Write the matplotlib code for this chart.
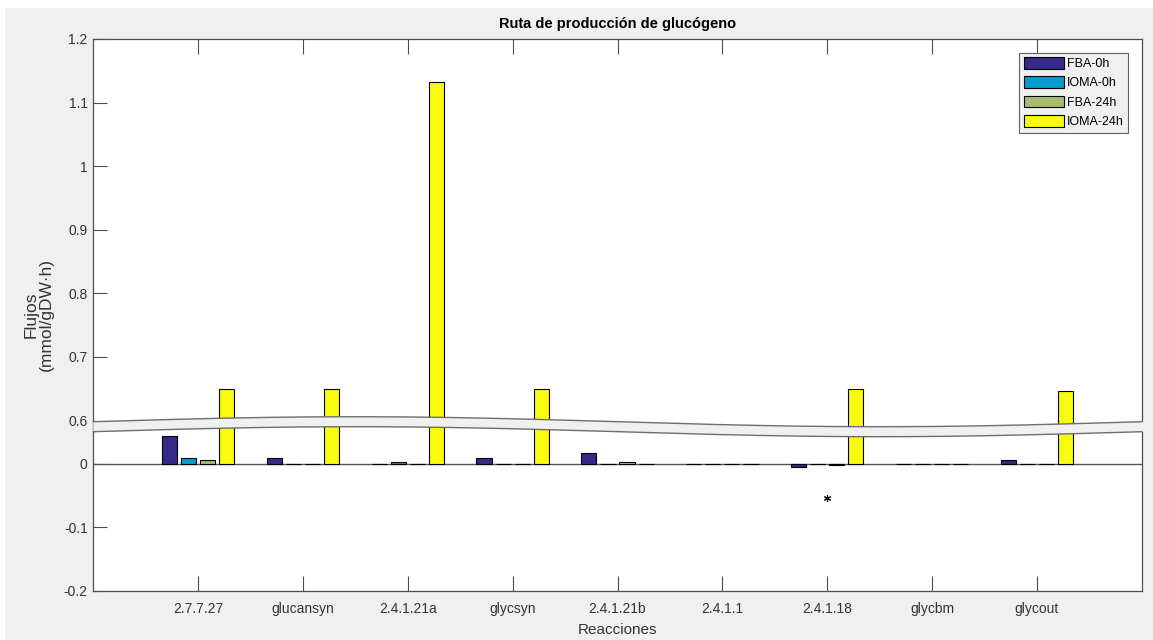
import numpy as np
import matplotlib

matplotlib.use("Agg")
import matplotlib.pyplot as plt
from matplotlib.patches import Rectangle

# Glycogen pathway fluxes per reaction, four simulation scenarios.
reactions = ["2.7.7.27", "glucansyn", "2.4.1.21a", "glycsyn", "2.4.1.21b",
             "2.4.1.1", "2.4.1.18", "glycbm", "glycout"]
series_names = ["FBA-0h", "IOMA-0h", "FBA-24h", "IOMA-24h"]
fba_0h = [0.044, 0.008, 0.0, 0.008, 0.016, 0.0, -0.006, 0.0, 0.006]
ioma_0h = [0.008, 0.0, 0.002, 0.0, 0.0, 0.0, 0.0, 0.0, 0.0]
fba_24h = [0.006, 0.0, 0.0, 0.0, 0.002, 0.0, -0.002, 0.0, 0.0]
ioma_24h = [0.65, 0.65, 1.133, 0.65, 0.0, 0.0, 0.65, 0.0, 0.647]
# lone marker under 2.4.1.18
star_x = 7
star_y = -0.055

yticks = [-0.2, -0.1, 0, 0.6, 0.7, 0.8, 0.9, 1.0, 1.1, 1.2]
ytick_labels = ["-0.2", "-0.1", "0", "0.6", "0.7", "0.8", "0.9", "1", "1.1", "1.2"]

# parula(4)
colors = ["#352a87", "#079cd0", "#a5be6b", "#f9fb0e"]

# broken y axis: values between BREAK_LO and 0.6 are squeezed out
BREAK_LO = 0.0675
GAP = 0.6 - BREAK_LO


def forward(v):
    v = np.asarray(v, dtype=float)
    return np.where(v <= BREAK_LO, v, v - GAP)


def inverse(t):
    t = np.asarray(t, dtype=float)
    return np.where(t <= BREAK_LO, t, t + GAP)


plt.rcParams["font.family"] = ["Liberation Sans Narrow", "Liberation Sans", "DejaVu Sans"]
plt.rcParams["axes.unicode_minus"] = False

W, H = 1153, 640
fig = plt.figure(figsize=(W / 100, H / 100), dpi=100, facecolor="#f0f0f0")
# thin white margin along the top and left edges
fig.patches.append(Rectangle((0, 1 - 8 / H), 1, 8 / H, transform=fig.transFigure,
                             facecolor="white", edgecolor="none", zorder=-1))
fig.patches.append(Rectangle((0, 0), 5 / W, 1, transform=fig.transFigure,
                             facecolor="white", edgecolor="none", zorder=-1))

ax_l, ax_r, ax_t, ax_b = 93.3, 1141.7, 39.0, 590.7
ax = fig.add_axes([ax_l / W, 1 - ax_b / H, (ax_r - ax_l) / W, (ax_b - ax_t) / H])
ax.set_facecolor("white")
ax.set_yscale("function", functions=(forward, inverse))

x = np.arange(1, len(reactions) + 1)
slot = 0.182
width = 0.145
for i, (vals, name) in enumerate(zip([fba_0h, ioma_0h, fba_24h, ioma_24h], series_names)):
    ax.bar(x + (i - 1.5) * slot, vals, width, color=colors[i], edgecolor="black",
           linewidth=0.8, label=name, zorder=3)

ax.axhline(0, color="#555555", linewidth=1.0, zorder=2)
ax.plot([star_x], [star_y], marker=(6, 2, 0), color="black", markersize=5,
        markeredgewidth=0.8, linestyle="none", zorder=4)

ax.set_xlim(0, 10)
ax.set_ylim(-0.2, 1.2)
ax.set_xticks(x)
ax.set_xticklabels(reactions)
ax.set_yticks(yticks)
ax.set_yticklabels(ytick_labels)
ax.minorticks_off()
ax.tick_params(axis="x", direction="in", length=11, width=0.8, color="#4d4d4d",
               top=True, labelsize=10, labelcolor="#333333", pad=8)
ax.tick_params(axis="y", direction="in", length=10, width=0.8, color="#4d4d4d",
               right=False, labelsize=10, labelcolor="#333333", pad=4)
for sp in ax.spines.values():
    sp.set_color("#4d4d4d")
    sp.set_linewidth(0.9)

ax.set_title("Ruta de producción de glucógeno", fontsize=10.5, fontweight="bold",
             color="black", pad=8)
ax.set_xlabel("Reacciones", fontsize=11, color="#333333", labelpad=5)
ax.set_ylabel("Flujos\n(mmol/gDW·h)", fontsize=12.5, color="#333333", labelpad=7,
              family=["Liberation Sans", "DejaVu Sans"], linespacing=1.0)

# wavy break band across the axis
u = np.linspace(0, 1.0, 400)
top = 0.3063 + 0.00906 * np.sin(2 * np.pi * u)
bot = top - 0.0181
ax.fill_between(np.append(u, 1.012), np.append(bot, bot[-1]), np.append(top, top[-1]),
                transform=ax.transAxes, facecolor="#f0f0f0", edgecolor="none",
                clip_on=False, zorder=6)
ax.plot(u, top, transform=ax.transAxes, color="#6e6e6e", linewidth=1.0,
        clip_on=False, zorder=7)
ax.plot(u, bot, transform=ax.transAxes, color="#6e6e6e", linewidth=1.0,
        clip_on=False, zorder=7)

leg = ax.legend(loc="upper right", fontsize=9, frameon=True, fancybox=False,
                facecolor="#f0f0f0", edgecolor="#606060", framealpha=1,
                handlelength=3.2, handleheight=1.05, handletextpad=0.25,
                labelspacing=0.5, borderaxespad=1.1, borderpad=0.35)
leg.get_frame().set_linewidth(0.8)

fig.savefig("out.png", dpi=100, facecolor=fig.get_facecolor())
